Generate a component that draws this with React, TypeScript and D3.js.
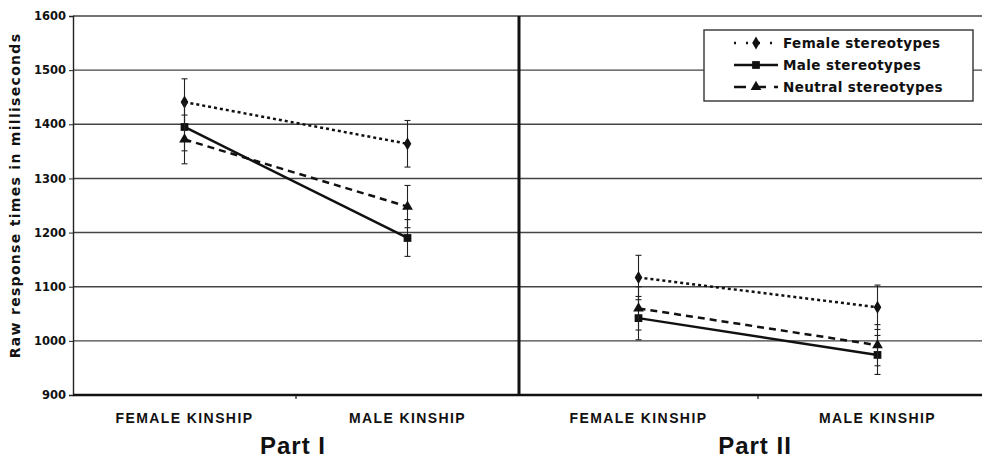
import * as d3 from 'd3';
import React, { useEffect, useRef } from 'react';

const parts = ['Part I', 'Part II'];
const categories = ['FEMALE KINSHIP', 'MALE KINSHIP'];
const seriesNames = ['Female stereotypes', 'Male stereotypes', 'Neutral stereotypes'];
const yTicks = [900, 1000, 1100, 1200, 1300, 1400, 1500, 1600];

// [part][category] means per series
const femaleMeans = [[1441, 1364], [1117, 1062]];
const maleMeans = [[1395, 1190], [1042, 974]];
const neutralMeans = [[1372, 1248], [1060, 992]];
const femaleErr = [[43, 43], [41, 41]];
const maleErr = [[44, 34], [40, 36]];
const neutralErr = [[45, 39], [40, 38]];

const App = () => {
  const ref = useRef<SVGSVGElement | null>(null);

  useEffect(() => {
    if (!ref.current) return;
    const svg = d3.select(ref.current);
    svg.selectAll('*').remove();

    const left = 73;
    const top = 16;
    const bottom = 395;
    const divider = 519;
    const right = 997;
    const font = 'DejaVu Sans, Verdana, sans-serif';
    const catFont = '"Liberation Sans", Lato, sans-serif';

    const y = d3.scaleLinear().domain([900, 1600]).range([bottom, top]);
    const xParts = [
      d3.scalePoint().domain(categories).range([left, divider]).padding(0.5),
      d3.scalePoint().domain(categories).range([divider, right]).padding(0.5),
    ];
    const partBounds = [[left, divider], [divider, right]];

    const g = svg.append('g');

    // gridlines
    yTicks.slice(1).forEach((t) => {
      g.append('line').attr('x1', left).attr('x2', 982).attr('y1', y(t)).attr('y2', y(t))
        .attr('stroke', '#444').attr('stroke-width', 1.4);
    });

    // y axis
    const yAxis = g.append('g').attr('transform', `translate(${left},0)`)
      .call(d3.axisLeft(y).tickValues(yTicks).tickSize(4).tickFormat(d3.format('d')));
    yAxis.select('.domain').attr('stroke', '#222').attr('stroke-width', 1.4);
    yAxis.selectAll('.tick line').attr('stroke', '#222');
    yAxis.selectAll('.tick text').style('font-family', font).style('font-weight', 'bold')
      .style('font-size', '11.5px').attr('fill', '#111').attr('x', -7);

    // x axis line
    g.append('line').attr('x1', left).attr('x2', 982).attr('y1', bottom).attr('y2', bottom)
      .attr('stroke', '#111').attr('stroke-width', 2.5);

    // divider
    g.append('line').attr('x1', divider).attr('x2', divider).attr('y1', top).attr('y2', bottom)
      .attr('stroke', '#111').attr('stroke-width', 3);

    // y title
    g.append('text').attr('transform', `translate(20,${(top + bottom) / 2 - 10}) rotate(-90)`)
      .attr('text-anchor', 'middle').style('font-family', font).style('font-weight', 'bold')
      .style('font-size', '14px').style('letter-spacing', '1.3px').attr('fill', '#111')
      .text('Raw response times in milliseconds');

    const seriesData = [
      { name: seriesNames[0], means: femaleMeans, err: femaleErr, dash: '3,3', marker: d3.symbolDiamond, size: 50 },
      { name: seriesNames[1], means: maleMeans, err: maleErr, dash: null, marker: d3.symbolSquare, size: 60 },
      { name: seriesNames[2], means: neutralMeans, err: neutralErr, dash: '7,5', marker: d3.symbolTriangle, size: 50 },
    ];

    parts.forEach((p, pi) => {
      const x = xParts[pi];
      const mid = (partBounds[pi][0] + partBounds[pi][1]) / 2;
      // middle tick
      g.append('line').attr('x1', mid).attr('x2', mid).attr('y1', bottom).attr('y2', bottom + 4)
        .attr('stroke', '#111').attr('stroke-width', 1.2);

      categories.forEach((c) => {
        g.append('text').attr('x', x(c)).attr('y', 423).attr('text-anchor', 'middle')
          .style('font-family', catFont).style('font-weight', 'bold').style('font-size', '14px')
          .style('letter-spacing', '1.4px').attr('fill', '#111').text(c);
      });

      g.append('text').attr('x', mid - 3).attr('y', 454).attr('text-anchor', 'middle')
        .style('font-family', catFont).style('font-weight', 'bold').style('font-size', '24px')
        .style('letter-spacing', '1px').attr('fill', '#111').text(p);

      seriesData.forEach((s) => {
        // error bars
        categories.forEach((c, ci) => {
          const m = s.means[pi][ci];
          const e = s.err[pi][ci];
          const cx = x(c) as number;
          g.append('line').attr('x1', cx).attr('x2', cx).attr('y1', y(m - e)).attr('y2', y(m + e))
            .attr('stroke', '#222').attr('stroke-width', 1.1);
          [m - e, m + e].forEach((v) => {
            g.append('line').attr('x1', cx - 3).attr('x2', cx + 3).attr('y1', y(v)).attr('y2', y(v))
              .attr('stroke', '#222').attr('stroke-width', 1.1);
          });
        });
        const line = d3.line<number>().x((d, i) => x(categories[i]) as number).y((d) => y(d));
        const path = g.append('path').datum(s.means[pi]).attr('d', line).attr('fill', 'none')
          .attr('stroke', '#111').attr('stroke-width', 2.5);
        if (s.dash) path.attr('stroke-dasharray', s.dash);
        categories.forEach((c, ci) => {
          g.append('path').attr('d', d3.symbol().type(s.marker).size(s.size)())
            .attr('transform', `translate(${x(c)},${y(s.means[pi][ci])})`).attr('fill', '#111');
        });
      });
    });

    // legend
    const lg = g.append('g').attr('transform', 'translate(704,30)');
    lg.append('rect').attr('width', 269).attr('height', 71).attr('fill', '#fff')
      .attr('stroke', '#333').attr('stroke-width', 1.4);
    seriesData.forEach((s, i) => {
      const ly = 13 + i * 22;
      const l = lg.append('line').attr('x1', 30).attr('x2', 74).attr('y1', ly).attr('y2', ly)
        .attr('stroke', '#111').attr('stroke-width', 2.5);
      if (s.dash) l.attr('stroke-dasharray', i === 0 ? '2,10' : '12,8');
      lg.append('path').attr('d', d3.symbol().type(s.marker).size(s.size)())
        .attr('transform', `translate(52,${ly})`).attr('fill', '#111');
      lg.append('text').attr('x', 79).attr('y', ly + 5).style('font-family', font)
        .style('font-weight', 'bold').style('font-size', '13.5px').style('letter-spacing', '0.4px')
        .attr('fill', '#111').text(s.name);
    });
  }, []);

  return <svg ref={ref} width={982} height={458} style={{ display: 'block', position: 'absolute', left: 0, top: 0, background: '#fff' }} />;
};

export default App;
